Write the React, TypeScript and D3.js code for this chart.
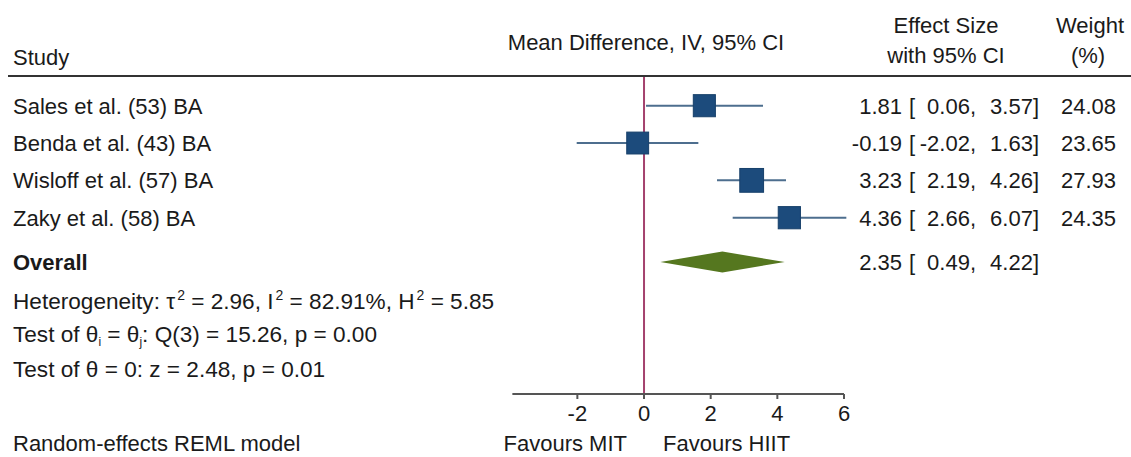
import React from 'react';
import * as d3 from 'd3';

// study rows
const studies = ['Sales et al. (53) BA', 'Benda et al. (43) BA', 'Wisloff et al. (57) BA', 'Zaky et al. (58) BA'];
const estimates = [1.81, -0.19, 3.23, 4.36];
const lowers = [0.06, -2.02, 2.19, 2.66];
const uppers = [3.57, 1.63, 4.26, 6.07];
const weights = [24.08, 23.65, 27.93, 24.35];

// pooled result
const overallLabel = 'Overall';
const overallEst = 2.35;
const overallLower = 0.49;
const overallUpper = 4.22;

const xTicks = [-2, 0, 2, 4, 6];

const W = 1131;
const H = 457;
const FONT = '"Liberation Sans", Arial, sans-serif';
const FS = 22;
const TEXT = '#1a1a1a';

// plain hyphen for negatives, like Stata prints them
const fmt = (v: number) => d3.format('.2f')(v).replace('\u2212', '-');

export default function App() {
  const x = d3.scaleLinear().domain([-4, 6]).range([510.7, 844]);
  const y = d3.scalePoint<string>().domain(studies).range([105.7, 217.7]);
  const overallY = 262;
  const axisY = 394;
  const axisMin = -3.95;

  const side = (w: number) => 4.5 * Math.sqrt(w);

  const diamond = d3.line<[number, number]>()([
    [x(overallLower), overallY],
    [x(overallEst), overallY - 10.5],
    [x(overallUpper), overallY],
    [x(overallEst), overallY + 10.5],
  ]) + 'Z';

  const effectCells = (yy: number, est: number, lo: number, hi: number, key: string) => (
    <g key={key}>
      <text x={902} y={yy + 8} textAnchor="end">{fmt(est)}</text>
      <text x={909} y={yy + 8}>[</text>
      <text x={976} y={yy + 8} textAnchor="end">{fmt(lo)},</text>
      <text x={1039} y={yy + 8} textAnchor="end">{fmt(hi)}]</text>
    </g>
  );

  return (
    <svg width={W} height={H} style={{ position: 'absolute', left: 0, top: 0, background: '#fff' }}
      fontFamily={FONT} fontSize={FS} fill={TEXT}>
      {/* header */}
      <text x={13} y={65}>Study</text>
      <text x={646} y={50} textAnchor="middle">Mean Difference, IV, 95% CI</text>
      <text x={946} y={33} textAnchor="middle">Effect Size</text>
      <text x={946} y={63} textAnchor="middle">with 95% CI</text>
      <text x={1090} y={33} textAnchor="middle">Weight</text>
      <text x={1088} y={63} textAnchor="middle">(%)</text>
      <line x1={8} x2={W} y1={76} y2={76} stroke="#333" strokeWidth={2} />

      {/* null line */}
      <line x1={x(0)} x2={x(0)} y1={77} y2={axisY} stroke="#a4426e" strokeWidth={2} />

      {/* studies */}
      {studies.map((s, i) => {
        const yy = y(s) as number;
        const sz = side(weights[i]);
        return (
          <g key={s}>
            <text x={13} y={yy + 8}>{s}</text>
            <line x1={x(lowers[i])} x2={x(uppers[i])} y1={yy} y2={yy} stroke="#4d6e8e" strokeWidth={2} />
            <rect x={x(estimates[i]) - sz / 2} y={yy - sz / 2} width={sz} height={sz}
              fill="#1c4b7c" stroke="#17406a" strokeWidth={1} />
            {effectCells(yy, estimates[i], lowers[i], uppers[i], 'e' + i)}
            <text x={1116} y={yy + 8} textAnchor="end">{fmt(weights[i])}</text>
          </g>
        );
      })}

      {/* overall */}
      <text x={13} y={overallY + 8} fontWeight="bold">{overallLabel}</text>
      <path d={diamond} fill="#55771f" />
      {effectCells(overallY, overallEst, overallLower, overallUpper, 'ov')}

      {/* heterogeneity stats */}
      <g fontSize={22.6}>
        <text x={13} y={308.5}>
          Heterogeneity: τ<tspan fontSize={14} dx={2} dy={-9}>2</tspan>
          <tspan dy={9}> = 2.96, I</tspan><tspan fontSize={14} dx={2} dy={-9}>2</tspan>
          <tspan dy={9}> = 82.91%, H</tspan><tspan fontSize={14} dx={2} dy={-9}>2</tspan>
          <tspan dy={9}> = 5.85</tspan>
        </text>
        <text x={13} y={342}>
          Test of θ<tspan fontSize={12} dy={4}>i</tspan>
          <tspan dy={-4}> = θ</tspan><tspan fontSize={12} dy={4}>j</tspan>
          <tspan dy={-4}>: Q(3) = 15.26, p = 0.00</tspan>
        </text>
        <text x={13} y={377}>Test of θ = 0: z = 2.48, p = 0.01</text>
      </g>

      {/* axis */}
      <line x1={x(axisMin)} x2={x(6)} y1={axisY} y2={axisY} stroke="#555" strokeWidth={2} />
      {xTicks.map((t) => (
        <g key={t}>
          <line x1={x(t)} x2={x(t)} y1={axisY} y2={axisY + 5} stroke="#555" strokeWidth={2} />
          <text x={x(t)} y={420.5} textAnchor="middle">{fmt(t).replace('.00', '')}</text>
        </g>
      ))}
      <text x={627} y={451} textAnchor="end">Favours MIT</text>
      <text x={663} y={451}>Favours HIIT</text>
      <text x={13} y={451}>Random-effects REML model</text>
    </svg>
  );
}
